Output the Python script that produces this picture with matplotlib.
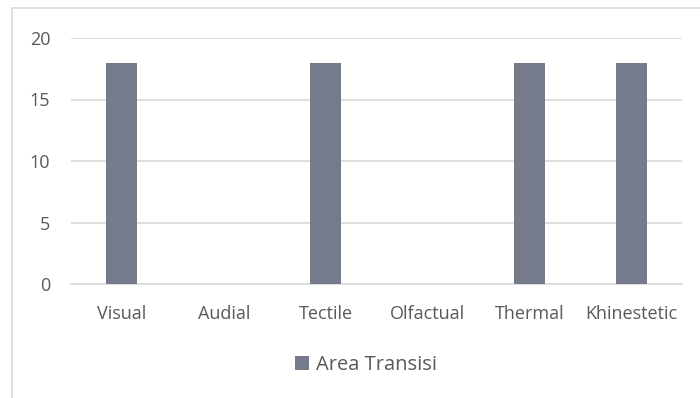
import matplotlib.pyplot as plt
from matplotlib.patches import Rectangle

categories = ['Visual', 'Audial', 'Tectile', 'Olfactual', 'Thermal', 'Khinestetic']
area_transisi = [18, 0, 18, 0, 18, 18]
yticks = [0, 5, 10, 15, 20]

W, H = 700, 398
fig = plt.figure(figsize=(W / 100, H / 100), dpi=100)
plt.rcParams['font.family'] = ['Open Sans', 'DejaVu Sans']

# chart frame (runs off the right and bottom edges)
fig.patches.append(Rectangle((12 / W, -0.05), 1.0, (H - 8) / H + 0.05,
                             transform=fig.transFigure, fill=False,
                             edgecolor='#d9d9d9', linewidth=1.2))

# plot area: x 71..682 px, y(0)=284 px, y(20)=38 px
ax = fig.add_axes([71 / W, (H - 284) / H, (682 - 71) / W, (284 - 38) / H])
x = range(len(categories))
ax.bar(x, area_transisi, width=0.305, color='#767b8c', zorder=3, label='Area Transisi')

ax.set_xlim(-0.5, len(categories) - 0.5)
ax.set_ylim(0, 20)
ax.set_yticks(yticks)
ax.set_xticks(list(x))
ax.set_xticklabels(categories)
ax.grid(axis='y', color='#d9d9d9', linewidth=1.2, zorder=0)
for s in ['top', 'right', 'left']:
    ax.spines[s].set_visible(False)
ax.spines['bottom'].set_color('#d9d9d9')
ax.spines['bottom'].set_linewidth(1.2)
ax.tick_params(length=0, labelsize=13, colors='#595959')
ax.tick_params(axis='x', pad=15)
ax.tick_params(axis='y', pad=15)

fig.legend(loc='center', bbox_to_anchor=(366 / W, 1 - 365 / H), frameon=False,
           fontsize=14.5, labelcolor='#595959', handlelength=0.7, handleheight=0.7,
           handletextpad=0.35)

fig.savefig('out.png', dpi=100)
